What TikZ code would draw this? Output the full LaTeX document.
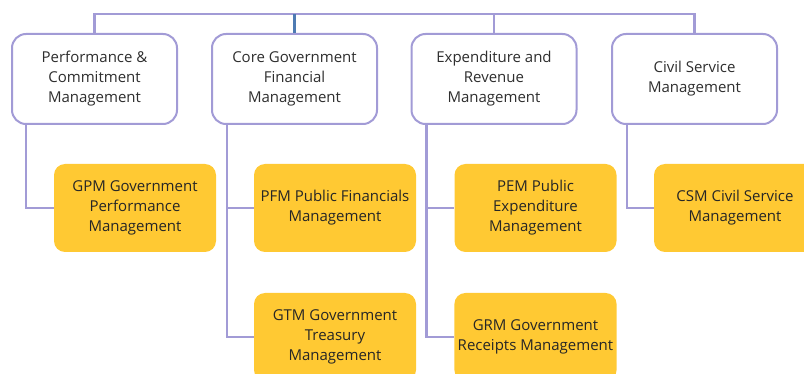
\documentclass[tikz,border=0pt]{standalone}
\usepackage{fontspec}
\setmainfont{Open Sans}
\definecolor{lav}{HTML}{A29BD6}
\definecolor{stub}{HTML}{4E7BB3}
\definecolor{gold}{HTML}{FFC933}
\definecolor{txt}{HTML}{2E2E2E}
\begin{document}
\begin{tikzpicture}[x=1pt,y=-1pt,
  topbox/.style={draw=lav,line width=2pt,rounded corners=14pt,fill=white,
    minimum width=165pt,minimum height=90pt,align=center,text=txt,
    font=\fontsize{15}{20}\selectfont},
  subbox/.style={fill=gold,rounded corners=11pt,minimum width=162pt,
    minimum height=88pt,align=center,text=black!85,
    font=\fontsize{15}{20}\selectfont},
  conn/.style={draw=lav,line width=2.2pt}]
\useasboundingbox (0,0) rectangle (804,374);
\clip (0,0) rectangle (804,374);
\coordinate (bus) at (0,14);
\node[topbox] (p1) at (94.5,79) {Performance \&\\Commitment\\Management};
\node[topbox] (p2) at (294.5,79) {Core Government\\Financial\\Management};
\node[topbox] (p3) at (494,79) {Expenditure and\\Revenue\\Management};
\node[topbox] (p4) at (694.5,79) {Civil Service\\Management};
\node[subbox] (gpm) at (135,208) {GPM Government\\Performance\\Management};
\node[subbox] (pfm) at (335,208) {PFM Public Financials\\Management};
\node[subbox] (gtm) at (335,337) {GTM Government\\Treasury\\Management};
\node[subbox] (pem) at (535.5,208) {PEM Public\\Expenditure\\Management};
\node[subbox] (grm) at (535.5,337) {GRM Government\\Receipts Management};
\node[subbox] (csm) at (735,208) {CSM Civil Service\\Management};
\draw[conn] (p1.north) |- (p4.north |- bus) -- (p4.north);
\draw[conn] (p3.north) -- (p3.north |- bus);
\draw[draw=stub,line width=2.2pt] (p2.north) -- (p2.north |- bus);
\draw[conn] ([xshift=15pt]p1.south west) |- (gpm.west);
\draw[conn] ([xshift=16pt]p2.south west) |- (pfm.west);
\draw[conn] ([xshift=16pt]p2.south west) |- (gtm.west);
\draw[conn] ([xshift=16pt]p3.south west) |- (pem.west);
\draw[conn] ([xshift=16pt]p3.south west) |- (grm.west);
\draw[conn] ([xshift=16pt]p4.south west) |- (csm.west);
\end{tikzpicture}
\end{document}
